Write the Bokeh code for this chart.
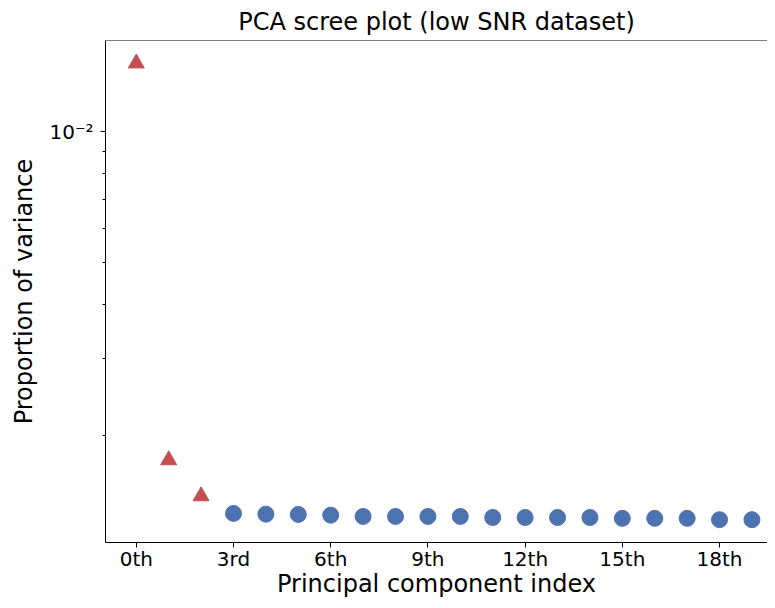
import math
from bokeh.plotting import figure
from bokeh.models import Range1d, FixedTicker, ColumnDataSource, Span
from bokeh.embed import file_html
from bokeh.resources import INLINE

# ---- data ----
pc_index = list(range(20))
pc_variance = [0.01437, 0.001754, 0.001449, 0.001322, 0.001317, 0.001315,
               0.001310, 0.001301, 0.001301, 0.001301, 0.001301, 0.001294,
               0.001294, 0.001294, 0.001294, 0.001288, 0.001288, 0.001288,
               0.001279, 0.001279]
n_signal = 3  # first components drawn as red triangles

x_tick_values = [0, 3, 6, 9, 12, 15, 18]
x_tick_labels = ["0th", "3rd", "6th", "9th", "12th", "15th", "18th"]
y_tick_values = [0.01]
y_tick_labels = ["10\u207b\u00b2"]
y_minor_ticks = [0.002, 0.003, 0.004, 0.005, 0.006, 0.007, 0.008, 0.009]

title_text = "PCA scree plot (low SNR dataset)"
x_label = "Principal component index"
y_label = "Proportion of variance"

RED = "#C44E52"
BLUE = "#4C72B0"
FONT = "DejaVu Sans"

# ---- ranges (matplotlib-like 5% margins, log y) ----
lo = math.log10(min(pc_variance))
hi = math.log10(max(pc_variance))
m = 0.05 * (hi - lo)
y_start, y_end = 10 ** (lo - m), 10 ** (hi + m)
x_start = -0.05 * (max(pc_index) - min(pc_index))
x_end = 19.48  # reference is cropped at the right edge

p = figure(width=767, height=600, y_axis_type="log",
           x_range=Range1d(x_start, x_end), y_range=Range1d(y_start, y_end),
           output_backend="svg", toolbar_location=None,
           min_border_left=105, min_border_right=0,
           min_border_top=40, min_border_bottom=56)

p.background_fill_color = "white"
p.border_fill_color = "white"
p.outline_line_color = None
p.xgrid.visible = False
p.ygrid.visible = False

# top spine
p.add_layout(Span(location=y_end, dimension="width", line_color="black", line_width=1))

p.title.text = title_text
p.title.text_font = FONT
p.title.text_font_size = "24px"
p.title.text_font_style = "normal"
p.title.text_color = "black"
p.title.align = "center"
p.title.standoff = 9
p.title.offset = 5

sig = ColumnDataSource(dict(x=pc_index[:n_signal], y=pc_variance[:n_signal]))
noise = ColumnDataSource(dict(x=pc_index[n_signal:], y=pc_variance[n_signal:]))
p.scatter("x", "y", source=sig, marker="triangle", size=16,
          fill_color=RED, line_color=RED)
p.scatter("x", "y", source=noise, marker="circle", size=16,
          fill_color=BLUE, line_color=BLUE)

for ax in (p.xaxis[0], p.yaxis[0]):
    ax.axis_line_color = "black"
    ax.axis_line_width = 1
    ax.major_tick_line_color = "black"
    ax.minor_tick_line_color = "black"
    ax.major_tick_in = 0
    ax.major_tick_out = 5
    ax.minor_tick_in = 0
    ax.minor_tick_out = 3
    ax.major_label_text_font = FONT
    ax.major_label_text_font_size = "20px"
    ax.major_label_text_color = "black"
    ax.axis_label_text_font = FONT
    ax.axis_label_text_font_size = "24px"
    ax.axis_label_text_font_style = "normal"
    ax.axis_label_text_color = "black"

p.xaxis.ticker = FixedTicker(ticks=x_tick_values)
p.xaxis.major_label_overrides = dict(zip(x_tick_values, x_tick_labels))
p.xaxis.axis_label = x_label
p.xaxis.major_label_standoff = -1
p.xaxis.axis_label_standoff = -4

p.yaxis.ticker = FixedTicker(ticks=y_tick_values, minor_ticks=y_minor_ticks)
p.yaxis.major_label_overrides = dict(zip(y_tick_values, y_tick_labels))
p.yaxis.axis_label = y_label
p.yaxis.major_label_standoff = 7
p.yaxis.axis_label_standoff = 8

open("out.html", "w").write(file_html(p, INLINE))
